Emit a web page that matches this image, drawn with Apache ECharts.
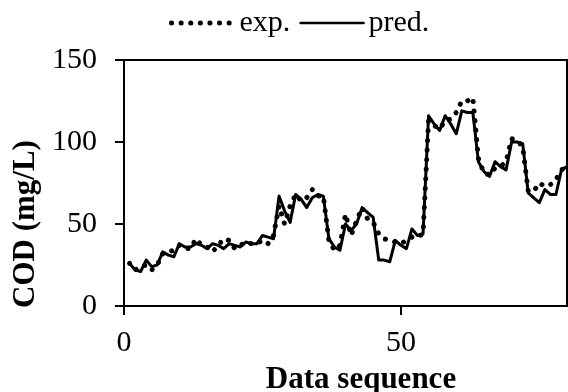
<!DOCTYPE html>
<html>
<head>
<meta charset="utf-8">
<script src="https://cdn.jsdelivr.net/npm/echarts@6/dist/echarts.min.js"></script>
<style>
html,body{margin:0;padding:0;background:#fff;}
#chart{width:568px;height:392px;}
</style>
</head>
<body>
<div id="chart"></div>
<script>
const sequence = [1,2,3,4,5,6,7,8,9,10,11,12,13,14,15,16,17,18,19,20,
  21,22,23,24,25,26,27,28,29,30,31,32,33,34,35,36,37,38,39,40,
  41,42,43,44,45,46,47,48,49,50,51,52,53,54,55,56,57,58,59,60,
  61,62,63,64,65,66,67,68,69,70,71,72,73,74,75,76,77,78,79,80];
const expValues = [26,22,24,25,22,25,32,33,34,37,35,35,41,37,36,33,37,41,40,35,
  37,39,38,38,40,38,43,61,50,61,68,64,66,71,67,67,40,34,37,56,
  43,52,60,53,51,44,41,40,39,38,40,42,42,44,113,110,108,113,114,118,
  125,125,127,90,81,80,84,85,88,102,101,97,70,70,75,73,74,77,83,85];
const predValues = [26,22,21,28,24,25,33,31,30,38,36,36,38,37,35,38,37,35,38,37,
  36,39,38,38,43,42,41,67,58,51,68,65,60,66,68,67,41,36,34,50,
  46,50,60,57,54,28,28,27,40,37,35,47,43,44,116,111,107,116,111,105,
  119,118,118,88,82,79,88,85,83,100,100,99,69,66,63,71,68,68,83,85];
const xTicks = [0, 50];
const yTicks = [0, 50, 100, 150];
const seriesNames = ['exp.', 'pred.'];

const FONT = 'Liberation Serif, Times New Roman, serif';
const chart = echarts.init(document.getElementById('chart'), null, {renderer: 'canvas'});
const pair = (xs, ys) => xs.map((x, i) => [x, ys[i]]);
const hiddenMarker = {color: 'rgba(0,0,0,0)', borderWidth: 0, opacity: 0};

chart.setOption({
  animation: false,
  backgroundColor: '#fff',
  textStyle: {fontFamily: FONT, color: '#000'},
  legend: {
    left: 164, top: 3,
    itemWidth: 63, itemHeight: 14, itemGap: 9,
    itemStyle: hiddenMarker,
    textStyle: {fontFamily: FONT, fontSize: 30, color: '#000'},
    data: [
      {name: seriesNames[0], lineStyle: {width: 5}, itemStyle: hiddenMarker},
      {name: seriesNames[1], lineStyle: {width: 2.5}, itemStyle: hiddenMarker}
    ]
  },
  grid: {left: 124, right: 1, top: 60, bottom: 86, show: true, borderColor: '#000', borderWidth: 2,
    backgroundColor: 'transparent', containLabel: false, outerBoundsMode: 'none'},
  xAxis: {
    type: 'value', min: 0, max: 80, interval: 50,
    name: 'Data sequence', nameLocation: 'middle', nameGap: 58,
    nameTextStyle: {fontFamily: FONT, fontSize: 31, fontWeight: 'bold', color: '#000', padding: [0, 0, 0, 31]},
    axisLine: {lineStyle: {color: '#000', width: 2}},
    axisTick: {show: true, inside: false, length: 9, lineStyle: {color: '#000', width: 2}, customValues: xTicks},
    axisLabel: {fontFamily: FONT, fontSize: 30, color: '#000', margin: 22, customValues: xTicks},
    splitLine: {show: false}
  },
  yAxis: {
    type: 'value', min: 0, max: 150, interval: 50,
    name: 'COD (mg/L)', nameLocation: 'middle', nameGap: 80,
    nameTextStyle: {fontFamily: FONT, fontSize: 31, fontWeight: 'bold', color: '#000', padding: [0, 82, 0, 0]},
    axisLine: {lineStyle: {color: '#000', width: 2}},
    axisTick: {show: true, inside: false, length: 9, lineStyle: {color: '#000', width: 2}},
    axisLabel: {fontFamily: FONT, fontSize: 30, color: '#000', margin: 27},
    splitLine: {show: false}
  },
  series: [
    {
      name: seriesNames[0], type: 'line', data: pair(sequence, expValues),
      symbol: 'none', showSymbol: false,
      lineStyle: {color: '#000', width: 5, type: [0.1, 9.5], cap: 'round'},
      itemStyle: {color: '#000'}
    },
    {
      name: seriesNames[1], type: 'line', data: pair(sequence, predValues),
      symbol: 'none', showSymbol: false,
      lineStyle: {color: '#000', width: 3, cap: 'round', join: 'round'},
      itemStyle: {color: '#000'}
    }
  ]
});
</script>
</body>
</html>
